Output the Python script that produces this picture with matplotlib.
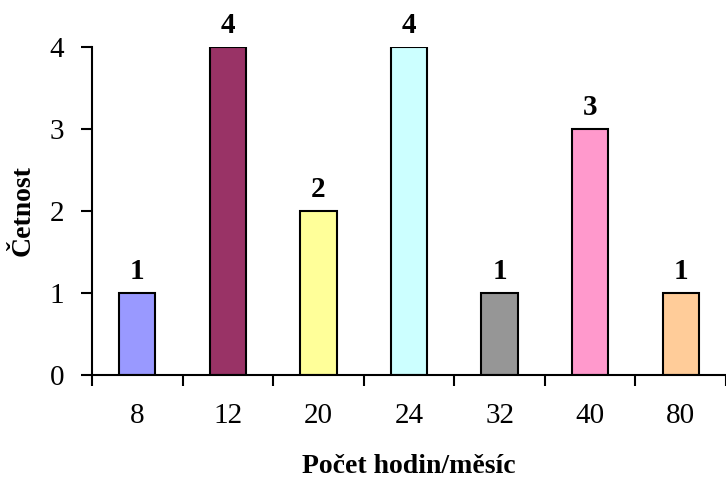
import matplotlib.pyplot as plt
import numpy as np

plt.rcParams['font.family'] = ['Liberation Serif', 'DejaVu Serif']

# hours per month and how many people gave each
hours = ['8', '12', '20', '24', '32', '40', '80']
counts = [1, 4, 2, 4, 1, 3, 1]
colors = ['#9999FF', '#993366', '#FFFF99', '#CCFFFF', '#969696', '#FF99CC', '#FFCC99']

fig = plt.figure(figsize=(7.26, 4.79), dpi=100)
ax = fig.add_axes([92 / 726, 1 - 375 / 479, 634 / 726, 328 / 479])

x = np.arange(len(hours))
bars = ax.bar(x, counts, width=0.40, color=colors, edgecolor='black', linewidth=1.5)

for xi, c in zip(x, counts):
    ax.text(xi, c + 0.1, str(c), ha='center', va='bottom',
            fontsize=21, fontweight='bold')

ax.set_xlim(-0.5, -0.5 + 634 / 92)
ax.set_ylim(0, 4)
ax.set_yticks([0, 1, 2, 3, 4])

# category labels sit between the boundary tick marks
ax.set_xticks(np.arange(len(hours) + 1) - 0.5)
ax.set_xticklabels([])
ax.set_xticks(x, minor=True)
ax.set_xticklabels(hours, minor=True)
ax.tick_params(axis='x', which='minor', length=0, pad=20, labelsize=21)
ax.tick_params(axis='x', which='major', length=8, width=1.5, direction='out')
ax.tick_params(axis='y', length=8, width=1.5, direction='out', pad=12, labelsize=21)

for side in ['top', 'right']:
    ax.spines[side].set_visible(False)
for side in ['left', 'bottom']:
    ax.spines[side].set_linewidth(1.5)

ax.set_xlabel('Počet hodin/měsíc', fontsize=20, fontweight='bold', labelpad=18)
ax.set_ylabel('Četnost', fontsize=20, fontweight='bold', labelpad=10)

fig.savefig('out.png', dpi=100)
